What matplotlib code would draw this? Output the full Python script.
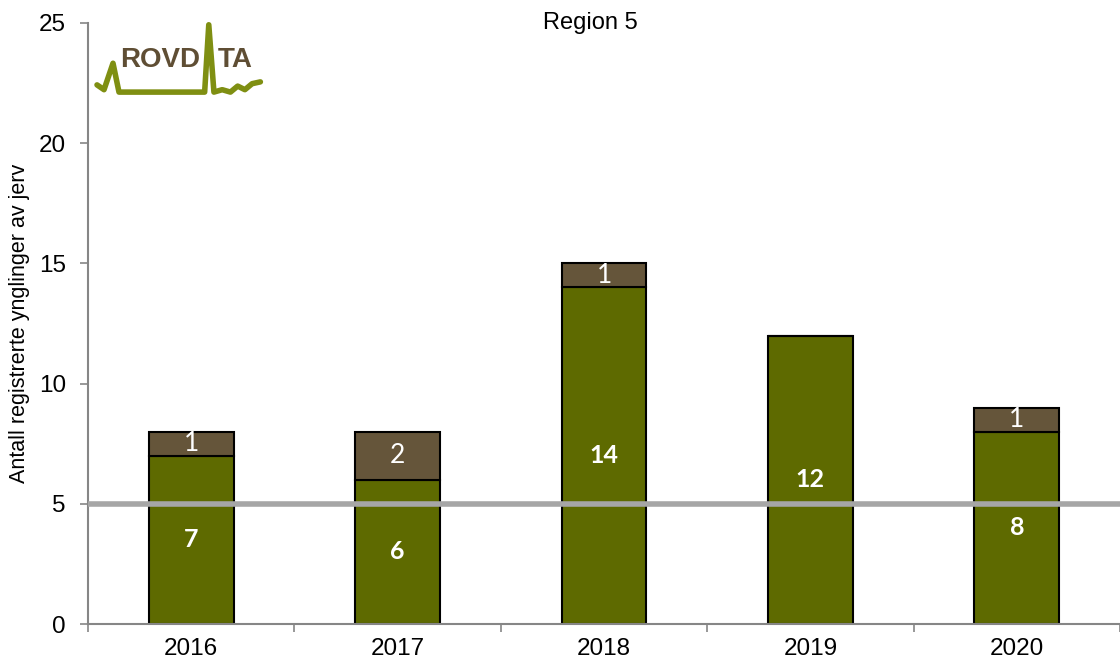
import numpy as np
import matplotlib.pyplot as plt

years = ["2016", "2017", "2018", "2019", "2020"]
sikre = [7, 6, 14, 12, 8]
andre = [1, 2, 1, 0, 1]
mal = 5

plt.rcParams['font.family'] = ['Liberation Sans', 'DejaVu Sans']

fig = plt.figure(figsize=(11.2, 6.64), dpi=100)
ax = fig.add_axes([0.0786, 0.0602, 0.9214, 0.9052])

x = np.arange(len(years))
green = '#5e6a00'
brown = '#65553a'
ax.bar(x, sikre, width=0.41, color=green, edgecolor='black', linewidth=1.5, zorder=2)
ax.bar(x, andre, width=0.41, bottom=sikre, color=brown, edgecolor='black', linewidth=1.5, zorder=2)

for i in range(len(years)):
    ax.text(x[i], sikre[i] / 2, str(sikre[i]), ha='center', va='center', color='white',
            fontsize=18, fontweight='bold', family=['Lato', 'DejaVu Sans'], zorder=4)
    if andre[i] > 0:
        ax.text(x[i], sikre[i] + andre[i] / 2, str(andre[i]), ha='center', va='center',
                color='white', fontsize=19, family=['Lato', 'DejaVu Sans'], zorder=4)

ax.axhline(mal, color='#a6a6a6', linewidth=4, zorder=3)

ax.set_xlim(-0.5, len(years) - 0.5)
ax.set_ylim(0, 25)
ax.set_yticks([0, 5, 10, 15, 20, 25])
ax.set_xticks(x)
ax.set_xticklabels(years)
ax.set_xticks(np.arange(-0.5, len(years) + 0.5, 1), minor=True)
ax.tick_params(axis='x', which='major', length=0, labelsize=17.5, pad=10)
ax.tick_params(axis='x', which='minor', length=6, color='#868686', width=1.2)
ax.tick_params(axis='y', labelsize=17.5, length=6, color='#868686', width=1.2, pad=10)
for s in ['top', 'right']:
    ax.spines[s].set_visible(False)
for s in ['left', 'bottom']:
    ax.spines[s].set_color('#868686')
    ax.spines[s].set_linewidth(1.5)

ax.set_ylabel('Antall registrerte ynglinger av jerv', fontsize=15.5, labelpad=6)
fig.text(0.527, 0.965, 'Region 5', ha='center', va='center', fontsize=17)

# Rovdata logo
logo_x = [0.0087, 0.0155, 0.0242, 0.030, 0.113, 0.117, 0.122, 0.130, 0.138, 0.145, 0.152, 0.159, 0.167]
logo_y = [0.897, 0.889, 0.933, 0.885, 0.885, 0.997, 0.885, 0.889, 0.885, 0.895, 0.889, 0.899, 0.902]
ax.plot(logo_x, logo_y, color='#7f8f12', linewidth=4, transform=ax.transAxes,
        solid_capstyle='round', solid_joinstyle='round', clip_on=False, zorder=5)
ax.text(0.0700, 0.938, 'ROVD', ha='center', va='center', color='#5f4e34', fontsize=20,
        fontweight='bold', transform=ax.transAxes, zorder=6)
ax.text(0.1430, 0.938, 'TA', ha='center', va='center', color='#5f4e34', fontsize=20,
        fontweight='bold', transform=ax.transAxes, zorder=6)

fig.savefig('out.png', dpi=100)
